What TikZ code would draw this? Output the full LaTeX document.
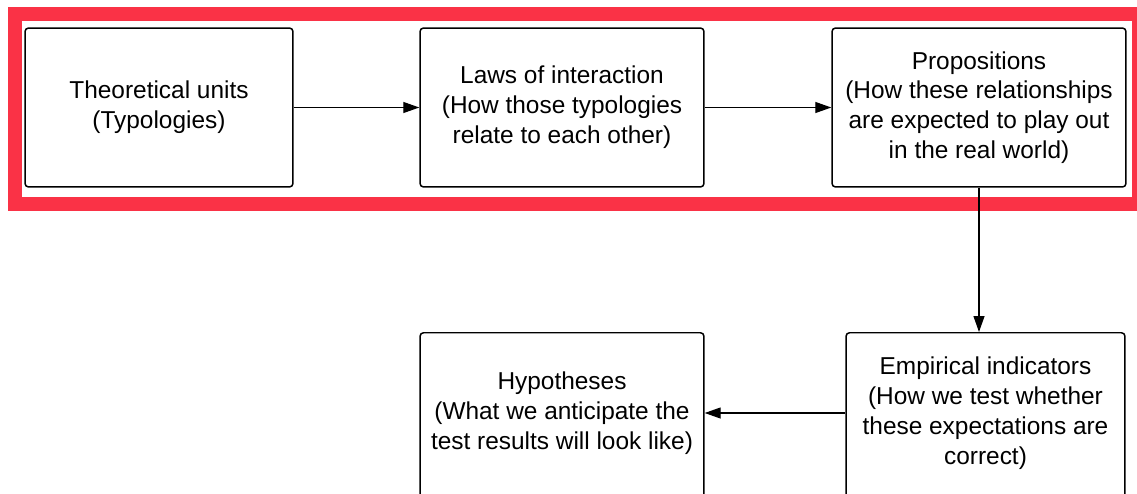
\documentclass[tikz,border=0pt]{standalone}
\usepackage{fontspec}
\setmainfont{Liberation Sans}
\usetikzlibrary{arrows.meta}
\definecolor{framered}{RGB}{250,50,70}
\begin{document}
\begin{tikzpicture}[x=0.02cm,y=-0.02cm,
    box/.style={draw,line width=0.85pt,rounded corners=2pt,minimum height=3.18cm},
    lbl/.style={align=center,font=\fontsize{13.9}{17}\selectfont},
    link/.style={line width=0.7pt,-{Triangle[length=0.32cm,width=0.22cm]}}]
    \useasboundingbox (0,0) rectangle (1137,494);
    % red frame round the top row
    \draw[framered,line width=0.28cm] (15,14) rectangle (1139,204);
    \coordinate(T) at (159,107.5);
    \coordinate(L) at (562,107.5);
    \coordinate(P) at (979,107.5);
    \coordinate(E) at (985.5,332);
    \coordinate(H) at (562,332);
    \node[box,lbl,minimum width=5.36cm] (theo) at (T) {Theoretical units\\(Typologies)};
    \node[box,lbl,minimum width=5.68cm] (laws) at (L) {Laws of interaction\\(How those typologies\\relate to each other)};
    \node[box,lbl,minimum width=5.88cm] (prop) at (P) {Propositions\\(How these relationships\\are expected to play out\\in the real world)};
    \node[box,minimum width=5.58cm,minimum height=3.7cm,anchor=north] (emp) at (E) {};
    \node[box,minimum width=5.68cm,minimum height=3.7cm,anchor=north] (hyp) at (H) {};
    \node[lbl] (emptext) at (985.5,413) {Empirical indicators\\(How we test whether\\these expectations are\\correct)};
    \node[lbl] (hyptext) at (562,413) {Hypotheses\\(What we anticipate the\\test results will look like)};
    \foreach \a/\b in {theo/laws,laws/prop}{
      \draw[link] (\a) -- (\b);
    }
    \draw[link] (prop.south) -- (prop.south |- emp.north);
    \draw[link] (emptext -| emp.west) -- (emptext -| hyp.east);
\end{tikzpicture}
\end{document}
